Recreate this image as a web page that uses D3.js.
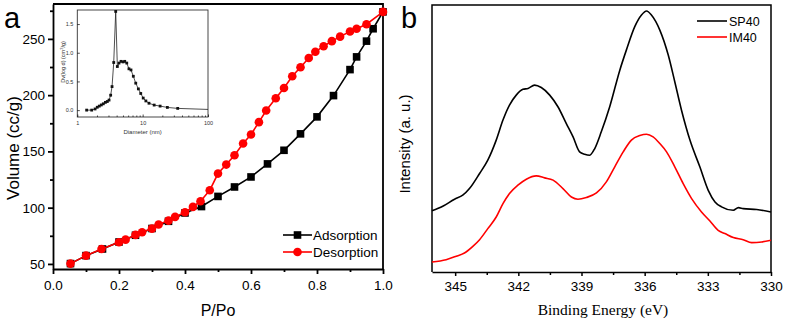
<!DOCTYPE html>
<html>
<head>
<meta charset="utf-8">
<script src="https://cdn.jsdelivr.net/npm/d3@7"></script>
<style>
  body { margin: 0; background: #fff; }
  svg { display: block; font-family: "Liberation Sans", Arial, sans-serif; }
  .axis path, .axis line { stroke: #000; }
</style>
</head>
<body>
<div id="chart"></div>
<script>
// panel a: N2 isotherm
var adsP = [0.053, 0.10, 0.15, 0.20, 0.25, 0.30, 0.35, 0.40, 0.45, 0.50, 0.55, 0.60, 0.65, 0.70, 0.75, 0.80, 0.85, 0.90, 0.92, 0.95, 0.97, 1.0];
var adsV = [50.3, 57.4, 63.3, 69.5, 75.5, 81.5, 87.9, 95.3, 101, 110, 118.4, 127.3, 138.9, 151, 165.6, 180.7, 199.6, 222.7, 234, 248, 259, 274];
var desP = [1.0, 0.95, 0.92, 0.90, 0.87, 0.845, 0.82, 0.795, 0.775, 0.75, 0.725, 0.70, 0.675, 0.646, 0.624, 0.60, 0.576, 0.55, 0.525, 0.50, 0.475, 0.447, 0.424, 0.40, 0.37, 0.35, 0.32, 0.30, 0.27, 0.25, 0.22, 0.20, 0.147, 0.10, 0.053];
var desV = [274, 263, 259, 256.5, 252, 248, 243.5, 238.5, 233, 224.8, 216.8, 206.4, 197.3, 186.3, 176, 165, 157, 146.6, 138.3, 130.3, 115.5, 105.7, 100.7, 95.9, 91.8, 88.5, 85, 81.4, 78.1, 75.8, 71.6, 69.3, 63.3, 57.4, 50.3];

// inset: pore size distribution
var poreD = [1.39, 1.66, 1.87, 2.02, 2.17, 2.33, 2.50, 2.69, 2.88, 3.06, 3.24, 3.40, 3.61, 3.87, 4.10, 4.35, 4.67, 5.01, 5.32, 5.71, 6.17, 6.63, 7.2, 7.84, 8.6, 9.35, 10.2, 11.2, 12.5, 15, 18.5, 23.9, 34.4];
var poreDv = [0.00, 0.00, 0.02, 0.05, 0.07, 0.09, 0.11, 0.135, 0.15, 0.175, 0.26, 0.41, 0.83, 1.72, 0.76, 0.82, 0.85, 0.84, 0.85, 0.82, 0.72, 0.70, 0.59, 0.47, 0.37, 0.29, 0.21, 0.16, 0.12, 0.088, 0.07, 0.047, 0.03];
var poreTail = [[34.4, 0.03], [100, 0.012]];

// panel b: XPS
var spE = [346.1, 345.59, 345.03, 344.64, 344.32, 343.84, 343.45, 343.05, 342.73, 342.42, 342.1, 341.78, 341.54, 341.23, 340.91, 340.51, 340.12, 339.72, 339.4, 339.09, 338.85, 338.61, 338.37, 338.06, 337.66, 337.18, 336.87, 336.47, 336.15, 335.91, 335.68, 335.28, 334.88, 334.57, 334.25, 333.85, 333.38, 332.98, 332.66, 332.35, 331.79, 331.55, 331.32, 330.68, 330];
var spI = [22.9, 24.6, 27.25, 28.75, 31.25, 36.9, 41.9, 49.4, 56.9, 62.5, 66.25, 68.4, 68.75, 70, 69.1, 66.25, 61.9, 55.6, 50.6, 45, 44.1, 43.75, 46.25, 52.5, 61.9, 75.6, 83.1, 91.9, 96.25, 97.75, 96.25, 90.6, 81.25, 71.25, 60.6, 49.4, 39.4, 30.6, 26.25, 24.4, 23.1, 24.1, 23.75, 23.4, 22.5];
var imE = [346.1, 345.43, 344.95, 344.56, 344.16, 343.84, 343.45, 343.05, 342.73, 342.42, 342.02, 341.62, 341.15, 340.75, 340.35, 339.88, 339.48, 339.17, 338.77, 338.29, 337.82, 337.42, 337.02, 336.63, 336.23, 335.91, 335.6, 335.28, 334.96, 334.57, 334.17, 333.77, 333.3, 332.9, 332.51, 332.19, 331.79, 331.32, 330.92, 330.44, 330];
var imI = [3.75, 4.6, 5.9, 7.1, 9.6, 12.1, 16.25, 20.6, 25.6, 29.4, 32.5, 34.75, 36, 35.25, 34.4, 31.25, 28.1, 27.25, 27.9, 29.6, 33.75, 39.4, 45, 49.4, 51.1, 51.6, 50.6, 48.1, 45, 39.4, 33.1, 27.5, 22.5, 19.1, 15.6, 14.4, 12.9, 12.1, 11, 11.25, 11.9];
var xpsTicks = [345, 342, 339, 336, 333, 330];

var svg = d3.select('#chart').append('svg')
    .attr('width', 787)
    .attr('height', 323);

// ---------- panel a ----------
var ax = d3.scaleLinear().domain([0, 1]).range([53, 383]);
var ay = d3.scaleLinear().domain([45.5, 281]).range([269, 4]);

var ga = svg.append('g');

ga.append('g')
    .attr('class', 'axis')
    .attr('transform', `translate(0,${ay.range()[0]})`)
    .call(d3.axisBottom(ax).tickValues(d3.range(0.1, 1, 0.2)).tickSize(3).tickFormat(''))
    .call(g => g.select('.domain').remove());
ga.append('g')
    .attr('class', 'axis')
    .attr('transform', `translate(0,${ay.range()[0]})`)
    .call(d3.axisBottom(ax).tickValues([0, 0.2, 0.4, 0.6, 0.8, 1.0]).tickSize(5).tickSizeOuter(0).tickFormat(d3.format('.1f')))
    .call(g => g.selectAll('text').attr('font-size', 13.5).attr('font-family', 'Liberation Sans').attr('dy', '13px'));

ga.append('g')
    .attr('class', 'axis')
    .attr('transform', `translate(${ax.range()[0]},0)`)
    .call(d3.axisLeft(ay).tickValues([75, 125, 175, 225, 275]).tickSize(3).tickFormat(''))
    .call(g => g.select('.domain').remove());
ga.append('g')
    .attr('class', 'axis')
    .attr('transform', `translate(${ax.range()[0]},0)`)
    .call(d3.axisLeft(ay).tickValues([50, 100, 150, 200, 250]).tickSize(5).tickSizeOuter(0))
    .call(g => g.selectAll('text').attr('font-size', 13.5).attr('font-family', 'Liberation Sans'));

ga.selectAll('.axis path, .axis line').attr('stroke-width', 1.8);

// frame top/right
ga.append('path')
    .attr('d', `M${ax(0)},${ay.range()[1]}H${ax(1)}V${ay.range()[0]}`)
    .attr('fill', 'none').attr('stroke', '#000').attr('stroke-width', 1.8);

var lineA = d3.line().x(d => ax(d[0])).y(d => ay(d[1]));
var ads = d3.zip(adsP, adsV);
var des = d3.zip(desP, desV);

ga.append('path').attr('d', lineA(ads)).attr('fill', 'none').attr('stroke', '#000').attr('stroke-width', 1.6);
ga.selectAll('.sq').data(ads).join('rect')
    .attr('x', d => ax(d[0]) - 3.8).attr('y', d => ay(d[1]) - 3.8)
    .attr('width', 7.6).attr('height', 7.6).attr('fill', '#000');

ga.append('path').attr('d', lineA(des)).attr('fill', 'none').attr('stroke', '#ff0000').attr('stroke-width', 1.6);
ga.selectAll('.ci').data(des).join('circle')
    .attr('cx', d => ax(d[0])).attr('cy', d => ay(d[1]))
    .attr('r', 4.3).attr('fill', '#ff0000');

ga.append('text').attr('x', 4).attr('y', 27.5).attr('font-size', 29).text('a');

ga.append('text')
    .attr('transform', 'translate(19,148) rotate(-90)')
    .attr('text-anchor', 'middle').attr('font-size', 17)
    .text('Volume (cc/g)');
ga.append('text')
    .attr('x', 218).attr('y', 316)
    .attr('text-anchor', 'middle').attr('font-size', 16)
    .text('P/Po');

// legend a
var legA = [['Adsorption', '#000', 'sq', 235], ['Desorption', '#ff0000', 'ci', 252]];
legA.forEach(function (l) {
    ga.append('line').attr('x1', 283).attr('x2', 312).attr('y1', l[3]).attr('y2', l[3])
        .attr('stroke', l[1]).attr('stroke-width', 1.6);
    if (l[2] === 'sq') {
        ga.append('rect').attr('x', 297.5 - 3.8).attr('y', l[3] - 3.8).attr('width', 7.6).attr('height', 7.6).attr('fill', l[1]);
    } else {
        ga.append('circle').attr('cx', 297.5).attr('cy', l[3]).attr('r', 4.3).attr('fill', l[1]);
    }
    ga.append('text').attr('x', 313).attr('y', l[3] + 5).attr('font-size', 13.5).text(l[0]);
});

// ---------- inset ----------
var ix = d3.scaleLog().domain([1, 100]).range([77.3, 208]);
var iy = d3.scaleLinear().domain([-0.12, 1.745]).range([117, 10]);
var gi = svg.append('g');

gi.append('rect').attr('x', 77.3).attr('y', 10).attr('width', 208 - 77.3).attr('height', 107)
    .attr('fill', '#fff').attr('stroke', '#333').attr('stroke-width', 0.9);

var minorLog = [];
[1, 10].forEach(function (b) { for (var k = 2; k <= 9; k++) minorLog.push(b * k); });
gi.append('g')
    .attr('class', 'axis')
    .attr('transform', 'translate(0,117)')
    .call(d3.axisBottom(ix).tickValues(minorLog).tickSize(-1.5).tickFormat(''))
    .call(g => g.select('.domain').remove());
gi.append('g')
    .attr('class', 'axis')
    .attr('transform', 'translate(0,117)')
    .call(d3.axisBottom(ix).tickValues([1, 10, 100]).tickSize(-2.5).tickSizeOuter(0).tickPadding(4).tickFormat(d3.format('d')))
    .call(g => g.select('.domain').remove())
    .call(g => g.selectAll('text').attr('font-size', 5.5).attr('fill', '#333'));
gi.append('g')
    .attr('class', 'axis')
    .attr('transform', 'translate(77.3,0)')
    .call(d3.axisLeft(iy).tickValues([0, 0.5, 1.0, 1.5]).tickSize(-2.5).tickPadding(4).tickFormat(d3.format('.1f')))
    .call(g => g.select('.domain').remove())
    .call(g => g.selectAll('text').attr('font-size', 5.5).attr('fill', '#333'));
gi.selectAll('.axis line').attr('stroke-width', 0.7).attr('stroke', '#333');

var lineI = d3.line().x(d => ix(d[0])).y(d => iy(d[1]));
var pore = d3.zip(poreD, poreDv);
gi.append('path').attr('d', lineI(pore)).attr('fill', 'none').attr('stroke', '#222').attr('stroke-width', 0.8);
gi.append('path').attr('d', lineI(poreTail)).attr('fill', 'none').attr('stroke', '#222').attr('stroke-width', 0.8);
gi.selectAll('.ps').data(pore).join('rect')
    .attr('x', d => ix(d[0]) - 1.4).attr('y', d => iy(d[1]) - 1.4)
    .attr('width', 2.8).attr('height', 2.8).attr('fill', '#111');

gi.append('text').attr('x', 142.6).attr('y', 134).attr('text-anchor', 'middle')
    .attr('font-size', 6).attr('fill', '#333').text('Diameter (nm)');
gi.append('text')
    .attr('transform', 'translate(64.5,62) rotate(-90)')
    .attr('text-anchor', 'middle').attr('font-size', 5.5).attr('fill', '#333')
    .html('Dv(log d) (cm<tspan dy="-2" font-size="4">3</tspan><tspan dy="2">/g)</tspan>');

// ---------- panel b ----------
var bx = d3.scaleLinear().domain([346.1, 330]).range([432, 771]);
var by = d3.scaleLinear().domain([0, 100]).range([272, 5]);
var gb = svg.append('g');

gb.append('g')
    .attr('class', 'axis')
    .attr('transform', 'translate(0,272)')
    .call(d3.axisBottom(bx).tickValues(d3.range(343.5, 330, -3)).tickSize(3).tickFormat(''))
    .call(g => g.select('.domain').remove());
gb.append('g')
    .attr('class', 'axis')
    .attr('transform', 'translate(0,272)')
    .call(d3.axisBottom(bx).tickValues(xpsTicks).tickSize(4).tickSizeOuter(0).tickPadding(5).tickFormat(d3.format('d')))
    .call(g => g.selectAll('text').attr('font-size', 13.5).attr('font-family', 'Liberation Sans'));
gb.selectAll('.axis path, .axis line').attr('stroke-width', 1.5);

gb.append('path')
    .attr('d', `M${bx.range()[0]},272V5H${bx.range()[1]}V272`)
    .attr('fill', 'none').attr('stroke', '#000').attr('stroke-width', 1.5);

var lineB = d3.line().x(d => bx(d[0])).y(d => by(d[1])).curve(d3.curveMonotoneX);
gb.append('path').attr('d', lineB(d3.zip(spE, spI))).attr('fill', 'none').attr('stroke', '#000').attr('stroke-width', 1.6);
gb.append('path').attr('d', lineB(d3.zip(imE, imI))).attr('fill', 'none').attr('stroke', '#ff0000').attr('stroke-width', 1.6);

gb.append('text').attr('x', 401).attr('y', 28).attr('font-size', 29).text('b');

gb.append('text')
    .attr('transform', 'translate(410,144) rotate(-90)')
    .attr('text-anchor', 'middle').attr('font-size', 15)
    .text('Intensity (a. u.)');
gb.append('text')
    .attr('x', 603).attr('y', 315)
    .attr('text-anchor', 'middle').attr('font-size', 15.5)
    .attr('font-family', '"Liberation Serif", "Times New Roman", serif')
    .text('Binding Energy (eV)');

var legB = [['SP40', '#000', 21], ['IM40', '#ff0000', 37]];
legB.forEach(function (l) {
    gb.append('line').attr('x1', 697).attr('x2', 727).attr('y1', l[2]).attr('y2', l[2])
        .attr('stroke', l[1]).attr('stroke-width', 1.6);
    gb.append('text').attr('x', 729).attr('y', l[2] + 4.5).attr('font-size', 12.5).text(l[0]);
});
</script>
</body>
</html>
